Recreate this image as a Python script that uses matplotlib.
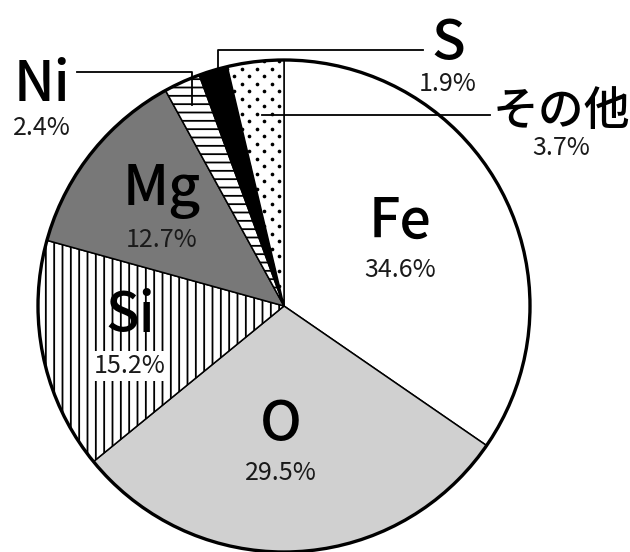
import matplotlib
matplotlib.use("Agg")
import matplotlib.pyplot as plt
import numpy as np

plt.rcParams['font.family'] = ['Noto Sans CJK JP', 'DejaVu Sans']
plt.rcParams['hatch.linewidth'] = 1.3

# 元素の割合（%）
elements = ["Fe", "O", "Si", "Mg", "Ni", "S", "その他"]
shares = [34.6, 29.5, 15.2, 12.7, 2.4, 1.9, 3.7]
pct_labels = ["34.6%", "29.5%", "15.2%", "12.7%", "2.4%", "1.9%", "3.7%"]

W, H = 630, 552
fig = plt.figure(figsize=(W / 100, H / 100), dpi=100)
ax = fig.add_axes([0, 0, 1, 1])

cx, cy, R = 284, H - 306, 246

fills = ["white", "#d0d0d0", "white", "#787878", "white", "black", "white"]
hatches = [None, None, "||", None, "--", None, None]

wedges, _ = ax.pie(shares, startangle=90, counterclock=False, center=(cx, cy),
                   radius=R, colors=fills, frame=True,
                   wedgeprops=dict(edgecolor="black", linewidth=1.1))
for w, h in zip(wedges, hatches):
    if h:
        w.set_hatch(h)

# dotted texture for その他
dots_wedge = wedges[6]
gx, gy = [], []
for j, yy in enumerate(np.arange(cy - 40, cy + R + 10, 7.5)):
    off = 7.5 if j % 2 else 0.0
    for xx in np.arange(cx - 80 + off, cx + 10, 15):
        gx.append(xx)
        gy.append(yy)
sc = ax.scatter(gx, gy, s=7, color="black", linewidths=0, zorder=3)
sc.set_clip_path(dots_wedge)

# outer rim
rim = plt.Circle((cx, cy), R, fill=False, edgecolor="black", linewidth=2.4, zorder=4)
ax.add_patch(rim)

def Y(y):
    return H - y

big = 40
small = 18
# labels inside the pie: (x, name baseline, pct baseline, white box behind pct)
inside = {
    "Fe": (400, 238, 277, False),
    "O": (281, 441, 480, False),
    "Si": (130, 332, 373, True),
    "Mg": (162, 205, 247, False),
}
for name, (x, yb, yp, boxed) in inside.items():
    i = elements.index(name)
    ax.text(x, Y(yb), name, fontsize=big, fontweight="medium", ha="center",
            va="baseline", color="black", zorder=5)
    box = dict(facecolor="white", edgecolor="none", pad=1.5) if boxed else None
    ax.text(x, Y(yp), pct_labels[i], fontsize=small, ha="center", va="baseline",
            color="#1a1a1a", zorder=5, bbox=box)

# labels outside with leader lines
outside = {
    "Ni": (42, 101, 135, big),
    "S": (448, 60, 91, big),
    "その他": (561, 125, 155, 33),
}
for name, (x, yb, yp, fs) in outside.items():
    i = elements.index(name)
    ax.text(x, Y(yb), name, fontsize=fs, fontweight="medium", ha="center",
            va="baseline", color="black", zorder=5)
    ax.text(x, Y(yp), pct_labels[i], fontsize=small, ha="center", va="baseline",
            color="#1a1a1a", zorder=5)

def wedge_point(k, frac):
    start = 90 - 360 * sum(shares[:k]) / 100
    mid = np.deg2rad(start - 360 * shares[k] / 200)
    return cx + frac * R * np.cos(mid), cy + frac * R * np.sin(mid)

lk = dict(color="black", linewidth=1.3, zorder=6)
# Ni
px, py = wedge_point(4, 0.9)
ax.plot([77, px, px], [Y(72), Y(72), py], **lk)
# S
px, py = wedge_point(5, 0.93)
ax.plot([423, px, px], [Y(50), Y(50), py], **lk)
# その他
px, py = wedge_point(6, 0.76)
ax.plot([490, px], [Y(115), Y(115)], **lk)

ax.set_xlim(0, W)
ax.set_ylim(0, H)
ax.set_aspect("equal")
ax.axis("off")

fig.savefig("out.png", dpi=100, facecolor="white")
